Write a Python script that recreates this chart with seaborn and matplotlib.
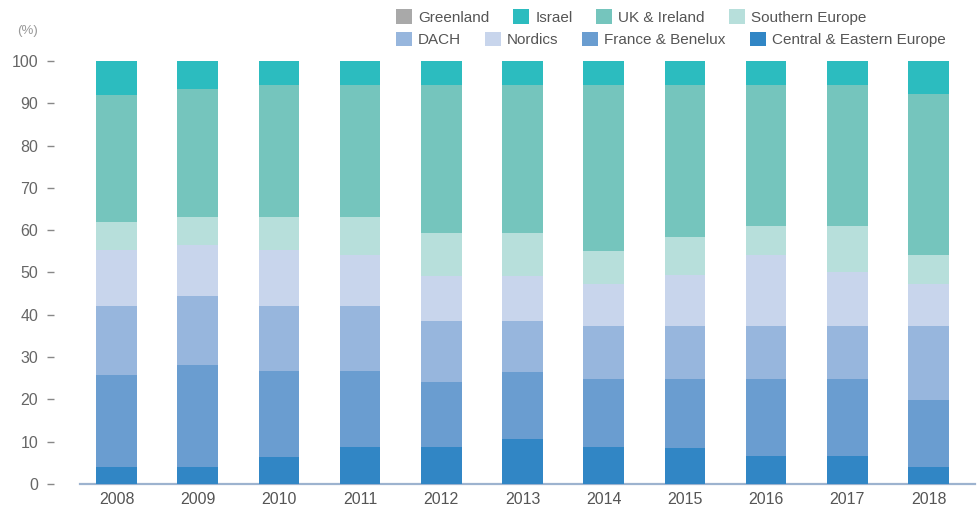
import matplotlib
matplotlib.use('Agg')
import matplotlib.pyplot as plt
from matplotlib.patches import Patch
import numpy as np
import seaborn as sns

# Share by region (%)
years = ['2008', '2009', '2010', '2011', '2012', '2013', '2014', '2015', '2016', '2017', '2018']
cee = [4.0, 4.0, 6.4, 8.7, 8.7, 10.6, 8.7, 8.5, 6.6, 6.6, 4.0]
france_benelux = [21.8, 24.1, 20.3, 18.0, 15.4, 15.9, 16.1, 16.3, 18.2, 18.2, 15.9]
dach = [16.3, 16.3, 15.4, 15.4, 14.4, 12.0, 12.6, 12.6, 12.6, 12.6, 17.5]
nordics = [13.2, 12.1, 13.2, 12.0, 10.7, 10.7, 9.9, 12.0, 16.7, 12.7, 9.9]
southern = [6.6, 6.6, 7.8, 9.0, 10.1, 10.1, 7.8, 9.0, 6.9, 10.9, 6.8]
uk_ireland = [30.1, 30.3, 31.2, 31.2, 35.0, 35.0, 39.2, 35.9, 33.3, 33.3, 38.1]
israel = [8.0, 6.6, 5.7, 5.7, 5.7, 5.7, 5.7, 5.7, 5.7, 5.7, 7.8]
greenland = [0] * 11

# bottom -> top
stack_names = ['Central & Eastern Europe', 'France & Benelux', 'DACH', 'Nordics',
               'Southern Europe', 'UK & Ireland', 'Israel', 'Greenland']
stack_vals = [cee, france_benelux, dach, nordics, southern, uk_ireland, israel, greenland]
colors = {
    'Greenland': '#a9a9a9',
    'Israel': '#2cbcbf',
    'UK & Ireland': '#75c5bd',
    'Southern Europe': '#b7dfdb',
    'DACH': '#97b6dd',
    'Nordics': '#c8d5ec',
    'France & Benelux': '#6a9dd0',
    'Central & Eastern Europe': '#3186c5',
}

sns.set_style('white')
plt.rcParams['font.family'] = ['Liberation Sans', 'DejaVu Sans']

fig = plt.figure(figsize=(9.78, 5.15), dpi=100)
ax = fig.add_axes([0.0818, 0.0602, 0.915, 0.8214])

cum = np.cumsum(np.array(stack_vals, dtype=float), axis=0)
# draw tallest first so lower layers overlay
for i in range(len(stack_names) - 1, -1, -1):
    name = stack_names[i]
    if name == 'Greenland':
        continue
    sns.barplot(x=years, y=cum[i], color=colors[name], saturation=1,
                width=0.5, linewidth=0, ax=ax, zorder=2)

ax.set_ylim(0, 100)
ax.set_xlim(-0.45, 10.57)
ax.set_yticks(range(0, 101, 10))
ax.set_xlabel('')
ax.set_ylabel('')

for s in ['top', 'right', 'left']:
    ax.spines[s].set_visible(False)
ax.spines['left'].set_position(('outward', 18.7))
ax.spines['bottom'].set_color('#9db3cf')
ax.spines['bottom'].set_linewidth(1.6)
ax.spines['bottom'].set_zorder(1)

ax.tick_params(axis='y', length=5, width=1, color='#888888', labelcolor='#666666',
               labelsize=11.5, pad=6.5, direction='out', left=True)
ax.tick_params(axis='x', length=0, labelcolor='#555555', labelsize=11.5, pad=5.5)

fig.text(28 / 978, 1 - 31 / 515, '(%)', ha='center', va='center', color='#999999', fontsize=9.5)

row1 = ['Greenland', 'Israel', 'UK & Ireland', 'Southern Europe']
row2 = ['DACH', 'Nordics', 'France & Benelux', 'Central & Eastern Europe']
for row, ytop in [(row1, 1 - 9.5 / 515), (row2, 1 - 32 / 515)]:
    handles = [Patch(facecolor=colors[n], edgecolor='none', label=n) for n in row]
    fig.legend(handles=handles, loc='upper left', bbox_to_anchor=(396 / 978, ytop),
               ncol=4, frameon=False, fontsize=11, handlelength=1.05, handleheight=1.05,
               handletextpad=0.4, columnspacing=1.55, borderpad=0, borderaxespad=0,
               labelcolor='#555555')

fig.savefig('out.png', dpi=100)
